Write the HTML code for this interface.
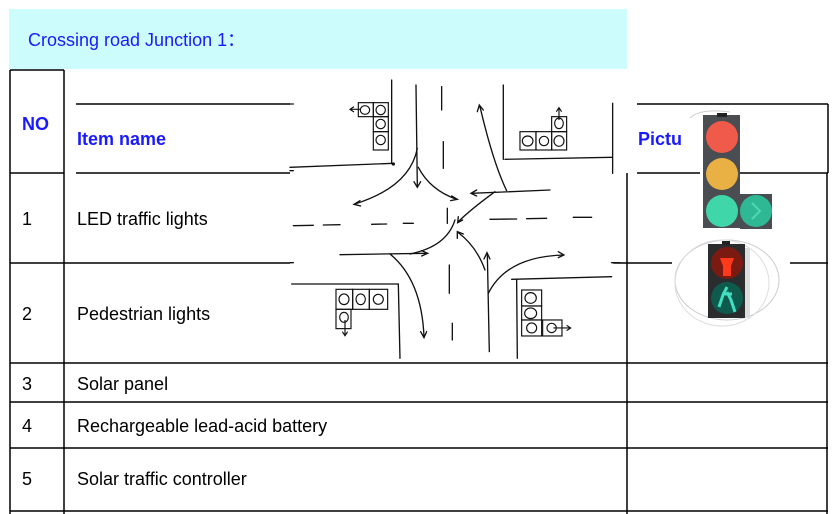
<!DOCTYPE html>
<html><head><meta charset="utf-8"><style>
html,body{margin:0;padding:0;background:#fff;}
body{width:838px;height:514px;overflow:hidden;position:relative;font-family:"Liberation Sans",Arial,sans-serif;}
</style></head><body>
<svg width="838" height="514" viewBox="0 0 838 514" xmlns="http://www.w3.org/2000/svg" style="position:absolute;left:0;top:0">
<rect x="9" y="9" width="618" height="60" fill="#ccfcfc"/>
<text x="28" y="46" font-family="Liberation Sans, sans-serif" font-size="18" fill="#1a1aff">Crossing road Junction 1：</text>
<g stroke="#000" stroke-width="1.5" fill="none">
<line x1="10" y1="70" x2="10" y2="514"/>
<line x1="64" y1="70" x2="64" y2="514"/>
<line x1="10" y1="70" x2="64" y2="70"/>
<line x1="10" y1="173" x2="64" y2="173"/>
<line x1="76" y1="104" x2="290" y2="104"/>
<line x1="76" y1="173" x2="290" y2="173"/>
<line x1="10" y1="263" x2="290" y2="263"/>
<line x1="637" y1="104" x2="828" y2="104"/>
<line x1="637" y1="173" x2="700" y2="173"/>
<line x1="740" y1="173" x2="828" y2="173"/>
<line x1="828" y1="104" x2="828" y2="173"/>
<line x1="627" y1="173" x2="627" y2="514"/>
<line x1="827" y1="173" x2="827" y2="514"/>
<line x1="612" y1="263" x2="672" y2="263"/>
<line x1="790" y1="263" x2="828" y2="263"/>
<line x1="10" y1="363" x2="828" y2="363"/>
<line x1="10" y1="402" x2="828" y2="402"/>
<line x1="10" y1="448" x2="828" y2="448"/>
<line x1="10" y1="511" x2="828" y2="511"/>
</g>
<g font-family="Liberation Sans, sans-serif" font-size="18" fill="#000">
<text x="22" y="130" font-weight="bold" fill="#1a1aff">NO</text>
<text x="77" y="145" font-weight="bold" fill="#1a1aff">Item name</text>
<text x="638" y="145" font-weight="bold" fill="#1a1aff">Pictu</text>
<text x="22" y="225">1</text><text x="77" y="225">LED traffic lights</text>
<text x="22" y="320">2</text><text x="77" y="320">Pedestrian lights</text>
<text x="22" y="390">3</text><text x="77" y="390">Solar panel</text>
<text x="22" y="432">4</text><text x="77" y="432">Rechargeable lead-acid battery</text>
<text x="22" y="485">5</text><text x="77" y="485">Solar traffic controller</text>
</g>
<!-- crossing drawing -->
<g transform="translate(290,80) scale(0.3333)">
<rect x="0" y="0" width="970" height="840" fill="#fff"/>
<g stroke="#111" stroke-width="4" fill="none" stroke-linecap="round">
<line x1="305" y1="0" x2="305" y2="250"/>
<line x1="0" y1="262" x2="310" y2="250"/>
<line x1="640" y1="15" x2="640" y2="238"/>
<line x1="645" y1="238" x2="965" y2="232"/>
<line x1="968" y1="70" x2="968" y2="280"/>
<line x1="5" y1="612" x2="325" y2="612"/>
<line x1="325" y1="612" x2="330" y2="835"/>
<line x1="665" y1="598" x2="965" y2="590"/>
<line x1="680" y1="598" x2="682" y2="835"/>
<line x1="0" y1="72" x2="10" y2="72"/><line x1="0" y1="272" x2="10" y2="272"/><line x1="0" y1="548" x2="10" y2="548"/><line x1="965" y1="548" x2="990" y2="548"/>
<line x1="455" y1="20" x2="455" y2="90"/><line x1="460" y1="185" x2="460" y2="265"/>
<line x1="478" y1="555" x2="478" y2="640"/><line x1="487" y1="730" x2="487" y2="780"/>
<line x1="10" y1="437" x2="70" y2="436"/><line x1="100" y1="435" x2="150" y2="434"/><line x1="245" y1="433" x2="290" y2="432"/><line x1="340" y1="430" x2="370" y2="430"/>
<line x1="600" y1="418" x2="680" y2="417"/><line x1="710" y1="416" x2="770" y2="415"/><line x1="850" y1="412" x2="905" y2="412"/>
<line x1="472" y1="385" x2="472" y2="430"/>
<!-- arrows -->
<path d="M378 15 L382 320"/><path d="M372 305 L382 322 L392 305"/>
<path d="M382 205 Q360 320 195 372"/><path d="M210 362 L192 373 L212 378"/>
<path d="M385 262 Q420 330 500 358"/><path d="M485 348 L502 358 L482 362"/>
<path d="M650 332 Q610 250 570 80"/><path d="M562 95 L568 75 L580 90"/>
<path d="M780 330 L545 340"/><path d="M560 330 L543 340 L560 348"/>
<path d="M615 335 Q540 390 505 425"/><path d="M505 410 L503 428 L518 420"/>
<path d="M150 524 L410 520"/><path d="M395 512 L413 520 L395 528"/>
<path d="M360 522 Q470 500 495 420"/>
<path d="M300 522 Q395 600 402 770"/><path d="M392 755 L402 773 L410 755"/>
<path d="M598 815 L592 520"/><path d="M582 537 L591 518 L600 537"/>
<path d="M585 570 Q560 500 505 458"/><path d="M502 475 L502 455 L520 462"/>
<path d="M595 640 Q650 530 820 525"/><path d="M805 515 L822 525 L805 533"/>
</g>
<g stroke="#111" stroke-width="3.5" fill="none">
<rect x="205" y="68" width="45" height="42"/><rect x="250" y="68" width="45" height="42"/><rect x="250" y="110" width="45" height="45"/><rect x="250" y="155" width="45" height="55"/>
<ellipse cx="225" cy="90" rx="14" ry="13"/><ellipse cx="272" cy="90" rx="14" ry="14"/><ellipse cx="272" cy="132" rx="14" ry="14"/><ellipse cx="272" cy="180" rx="14" ry="14"/>
<path d="M210 88 L180 88 M192 80 L180 88 L192 96"/>
<rect x="690" y="155" width="48" height="55"/><rect x="738" y="155" width="47" height="55"/><rect x="785" y="155" width="45" height="55"/><rect x="785" y="110" width="45" height="45"/>
<ellipse cx="713" cy="183" rx="16" ry="15"/><ellipse cx="762" cy="183" rx="14" ry="14"/><ellipse cx="807" cy="183" rx="15" ry="16"/><ellipse cx="807" cy="130" rx="13" ry="16"/>
<path d="M807 120 L807 85 M799 95 L807 83 L815 95"/>
<rect x="138" y="628" width="50" height="60"/><rect x="188" y="628" width="50" height="60"/><rect x="238" y="628" width="55" height="60"/><rect x="138" y="688" width="45" height="58"/>
<ellipse cx="162" cy="658" rx="15" ry="16"/><ellipse cx="212" cy="658" rx="14" ry="16"/><ellipse cx="265" cy="658" rx="15" ry="15"/><ellipse cx="162" cy="712" rx="13" ry="15"/>
<path d="M165 720 L165 765 M157 755 L165 767 L173 755"/>
<rect x="695" y="630" width="60" height="48"/><rect x="695" y="678" width="60" height="42"/><rect x="695" y="720" width="60" height="48"/><rect x="758" y="720" width="58" height="48"/>
<ellipse cx="722" cy="654" rx="17" ry="16"/><ellipse cx="722" cy="700" rx="18" ry="16"/><ellipse cx="725" cy="744" rx="15" ry="15"/><ellipse cx="785" cy="744" rx="14" ry="14"/>
<path d="M790 744 L842 744 M830 736 L842 744 L830 752"/>
</g>
<circle cx="310" cy="252" r="5" fill="#111"/>
</g>
<!-- traffic light -->
<path d="M690 118 Q700 108 730 112" stroke="#ccc" fill="none"/>
<rect x="703" y="115" width="37" height="113" fill="#4a4d52"/>
<rect x="717" y="113" width="10" height="4" fill="#222"/>
<circle cx="722" cy="137" r="16" fill="#ef5a4a"/>
<circle cx="722" cy="174" r="16" fill="#e9b044"/>
<circle cx="722" cy="211" r="16" fill="#3fd6aa"/>
<rect x="740" y="194" width="32" height="35" fill="#4a4d52"/>
<circle cx="756" cy="211" r="16" fill="#2fb894"/>
<path d="M752 203 L760 211 L752 219" stroke="#4fd8b0" stroke-width="2" fill="none"/>
<!-- pedestrian -->
<ellipse cx="727" cy="280" rx="52" ry="40" stroke="#ccc" fill="none"/>
<ellipse cx="722" cy="283" rx="47" ry="43" stroke="#ddd" fill="none"/>
<rect x="745" y="248" width="5" height="70" fill="#ddd"/>
<rect x="708" y="244" width="37" height="74" fill="#2a2c2e"/>
<rect x="722" y="241" width="8" height="4" fill="#222"/>
<circle cx="727" cy="263" r="16" fill="#7a1a10"/>
<path d="M727 252 v2 M720 258 h14 l-3 8 v10 h-8 v-10 z" fill="#ff3a1a"/>
<circle cx="727" cy="298" r="16" fill="#0e5a4c"/>
<path d="M727 287 l-4 8 l-4 12 M727 292 l4 8 l4 12 M722 294 l10 0" stroke="#40e0c0" stroke-width="3" fill="none"/>
</svg>
</body></html>
